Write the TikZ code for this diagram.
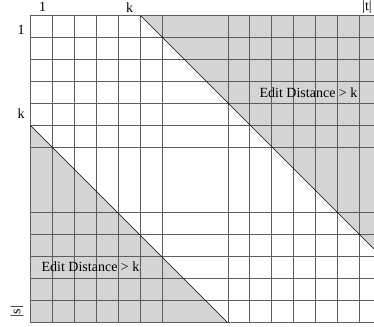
\documentclass[tikz,border=0pt]{standalone}
\usepackage{fontspec}
\setmainfont{Liberation Serif}
\definecolor{gridc}{HTML}{5E5E5E}
\definecolor{shade}{HTML}{D4D4D4}
\begin{document}
\begin{tikzpicture}[x=1pt,y=-1pt,
  gridline/.style={draw=gridc,line width=1pt},
  diag/.style={draw=black,line width=0.7pt},
  shaded/.style={fill=shade},
  lbl/.style={font=\fontsize{14}{16}\selectfont,inner sep=0pt},
  note/.style={font=\fontsize{14}{16}\selectfont,inner sep=0pt}]
\useasboundingbox (0,0) rectangle (374,326);
\clip (0,0) rectangle (374,326);
% shaded regions
\fill[shaded] (140.5,15.5) -- (440.5,315.5) -- (440.5,15.5) -- cycle;
\fill[shaded] (30.5,125.5) -- (227.5,322.5) -- (30.5,322.5) -- cycle;
% grid
\foreach \gx in {30.5,52.5,74.5,96.5,118.5,140.5,162.5,228.5,249.5,271.5,293.5,315.5,337.5,359.5,381.5}
  \draw[gridline] (\gx,15.5) -- (\gx,322.5);
\foreach \gy in {15.5,37.5,59.5,81.5,103.5,125.5,147.5,212.5,234.5,256.5,278.5,300.5,322.5}
  \draw[gridline] (30.5,\gy) -- (390,\gy);
% diagonals
\coordinate (ua) at (140.5,15.5);
\coordinate (ub) at (440.5,315.5);
\coordinate (la) at (30.5,125.5);
\coordinate (lb) at (227.5,322.5);
\draw[diag] (ua) -- (ub);
\draw[diag] (la) -- (lb);
% labels
\node[lbl] (t1) at (42.5,7) {1};
\node[lbl] (tk) at (129.5,7.5) {k};
\node[lbl] (tt) at (367,6.8) {|t|};
\node[lbl] (s1) at (21,30) {1};
\node[lbl] (sk) at (21,113.5) {k};
\node[lbl,rotate=90] (ss) at (17,311.5) {|s|};
\node[note] (e1) at (308.5,93) {Edit Distance > k};
\node[note] (e2) at (90.5,267) {Edit Distance > k};
\end{tikzpicture}
\end{document}
